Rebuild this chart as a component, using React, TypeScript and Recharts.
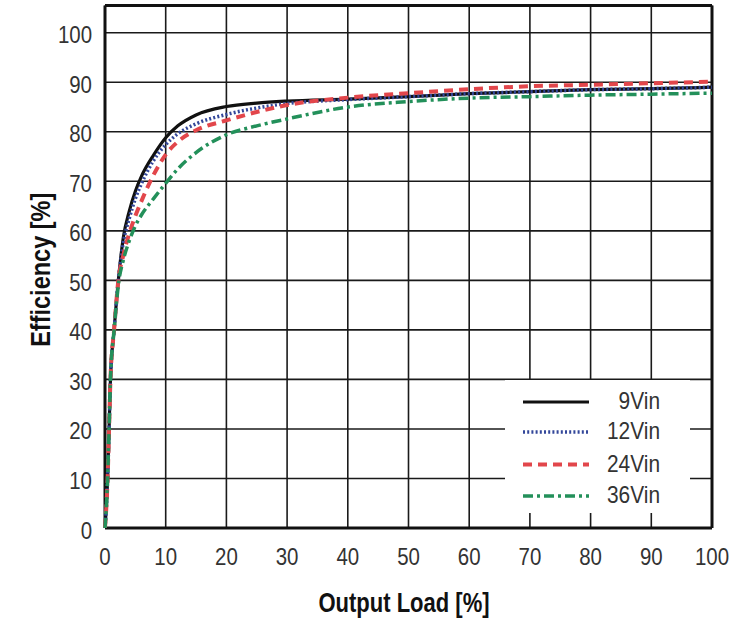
import React from 'react';
import { LineChart, Line, XAxis, YAxis, CartesianGrid, ReferenceLine, Legend } from 'recharts';

// Output load [%] sample points for each input voltage curve
const load9 = [0, 0.4, 0.65, 0.9, 1.5, 2.2, 3, 4, 5, 6, 8, 10, 12, 15, 20, 25, 30, 40, 50, 60, 70, 80, 90, 100];
const eff9 = [0, 9, 19, 30, 40, 50, 58.5, 64, 68, 71, 75.3, 78.8, 81.2, 83.4, 85.1, 85.8, 86.2, 86.6, 87.1, 87.7, 88.1, 88.5, 88.7, 89.0];

const load12 = [0, 0.4, 0.65, 0.9, 1.5, 2.2, 3, 4, 5, 6, 8, 10, 12, 15, 20, 25, 30, 40, 50, 60, 70, 80, 90, 100];
const eff12 = [0, 9, 19, 30, 40, 50, 57.5, 62.5, 66.5, 69.5, 74.2, 77.4, 79.6, 81.6, 83.5, 84.8, 85.7, 86.5, 87.1, 87.7, 88.1, 88.5, 88.7, 89.0];

const load24 = [0, 0.4, 0.65, 0.9, 1.5, 2.2, 3, 4, 5, 6, 8, 10, 12, 15, 20, 25, 30, 40, 50, 60, 70, 80, 90, 100];
const eff24 = [0, 9, 19, 30, 40, 50, 55, 59.5, 63, 66, 71.3, 75.4, 78, 80.3, 82.3, 84, 85.4, 86.9, 87.8, 88.6, 89.2, 89.5, 89.8, 90.1];

const load36 = [0, 0.4, 0.65, 0.9, 1.5, 2.3, 3, 4, 5, 6, 8, 10, 12, 15, 20, 25, 30, 40, 50, 60, 70, 80, 90, 100];
const eff36 = [0, 9, 19, 30, 40, 50, 54, 58, 61, 63.2, 66.5, 69.6, 72.5, 75.8, 79.4, 81.2, 82.6, 85.0, 86.1, 86.8, 87.1, 87.4, 87.6, 87.8];

const xTicks = [0, 10, 20, 30, 40, 50, 60, 70, 80, 90, 100];
const yTicks = [0, 10, 20, 30, 40, 50, 60, 70, 80, 90, 100];
const seriesNames = ['9Vin', '12Vin', '24Vin', '36Vin'];
const xTitle = 'Output Load [%]';
const yTitle = 'Efficiency [%]';

const zip = (xs: number[], ys: number[]) => xs.map((x, i) => ({ x, y: ys[i] }));

const series = [
  { name: seriesNames[0], data: zip(load9, eff9), color: '#111111', width: 3.2, dash: undefined as string | undefined },
  { name: seriesNames[1], data: zip(load12, eff12), color: '#33479a', width: 3.5, dash: '2 2.2' },
  { name: seriesNames[2], data: zip(load24, eff24), color: '#e2464b', width: 4, dash: '9 6' },
  { name: seriesNames[3], data: zip(load36, eff36), color: '#23905a', width: 3.5, dash: '10 4 3 4' },
];

const FONT = "'Liberation Sans', Arial, sans-serif";
const Y_TOP = 105.5;
const TICK_SIZE = 23.5;
const SQUEEZE = 0.87;

const XTick = (props: any) => {
  const { x, payload } = props;
  return (
    <text transform={`translate(${x},565) scale(${SQUEEZE},1)`} textAnchor="middle" fontFamily={FONT} fontSize={TICK_SIZE} fill="#333">
      {payload.value}
    </text>
  );
};

const YTick = (props: any) => {
  const { y, payload } = props;
  return (
    <text transform={`translate(92,${y + 10.5}) scale(${SQUEEZE},1)`} textAnchor="end" fontFamily={FONT} fontSize={TICK_SIZE} fill="#333">
      {payload.value}
    </text>
  );
};

const LegendBox = () => (
  <svg width={185} height={133} style={{ display: 'block', background: '#fff' }}>
    <rect x={0} y={0} width={185} height={133} fill="#fff" />
    {series.map((s, i) => {
      const ly = [22, 52, 84.5, 116][i];
      const by = [29, 59, 92, 123][i];
      return (
        <g key={s.name}>
          <line x1={18} y1={ly} x2={84} y2={ly} stroke={s.color} strokeWidth={s.width} strokeDasharray={s.dash} />
          <text transform={`translate(155,${by}) scale(${SQUEEZE},1)`} textAnchor="end" fontFamily={FONT} fontSize={24} fill="#333">
            {s.name}
          </text>
        </g>
      );
    })}
  </svg>
);

const YLabel = (props: any) => {
  const vb = props.viewBox || {};
  const cy = vb.y + vb.height / 2 + 3;
  return (
    <text transform={`translate(40,${cy}) rotate(-90) scale(0.84,1)`} textAnchor="middle" dominantBaseline="central"
      fontFamily={FONT} fontWeight="bold" fontSize={28} fill="#111">
      {yTitle}
    </text>
  );
};

const XLabel = () => (
  <text transform={`translate(404,612) scale(0.8,1)`} textAnchor="middle"
    fontFamily={FONT} fontWeight="bold" fontSize={27.5} fill="#111">
    {xTitle}
  </text>
);

export default function App() {
  return (
    <div style={{ position: 'absolute', left: 0, top: 0, background: '#fff' }}>
      <LineChart width={734} height={622} margin={{ top: 5.5, right: 22, bottom: 0, left: 0 }}>
        <CartesianGrid stroke="#1a1a1a" strokeWidth={1.6} verticalValues={xTicks} horizontalValues={yTicks} />
        <XAxis
          type="number"
          dataKey="x"
          domain={[0, 100]}
          ticks={xTicks}
          height={94}
          axisLine={false}
          tickLine={false}
          tick={<XTick />}
          allowDuplicatedCategory={false}
          label={<XLabel />}
        />
        <YAxis
          type="number"
          domain={[0, Y_TOP]}
          ticks={yTicks}
          width={105}
          axisLine={false}
          tickLine={false}
          allowDataOverflow
          tick={<YTick />}
          label={<YLabel />}
        />
        <ReferenceLine x={0} stroke="#111" strokeWidth={3} />
        <ReferenceLine x={100} stroke="#111" strokeWidth={3} />
        <ReferenceLine y={0} stroke="#111" strokeWidth={3} />
        <ReferenceLine y={Y_TOP} stroke="#111" strokeWidth={3} />
        {series.map((s) => (
          <Line
            key={s.name}
            data={s.data}
            dataKey="y"
            name={s.name}
            type="monotone"
            stroke={s.color}
            strokeWidth={s.width}
            strokeDasharray={s.dash}
            dot={false}
            activeDot={false}
            isAnimationActive={false}
          />
        ))}
        <Legend
          layout="vertical"
          align="center"
          verticalAlign="middle"
          content={<LegendBox />}
          wrapperStyle={{ position: 'absolute', left: 505, top: 380, width: 185, height: 133 }}
        />
      </LineChart>
    </div>
  );
}
